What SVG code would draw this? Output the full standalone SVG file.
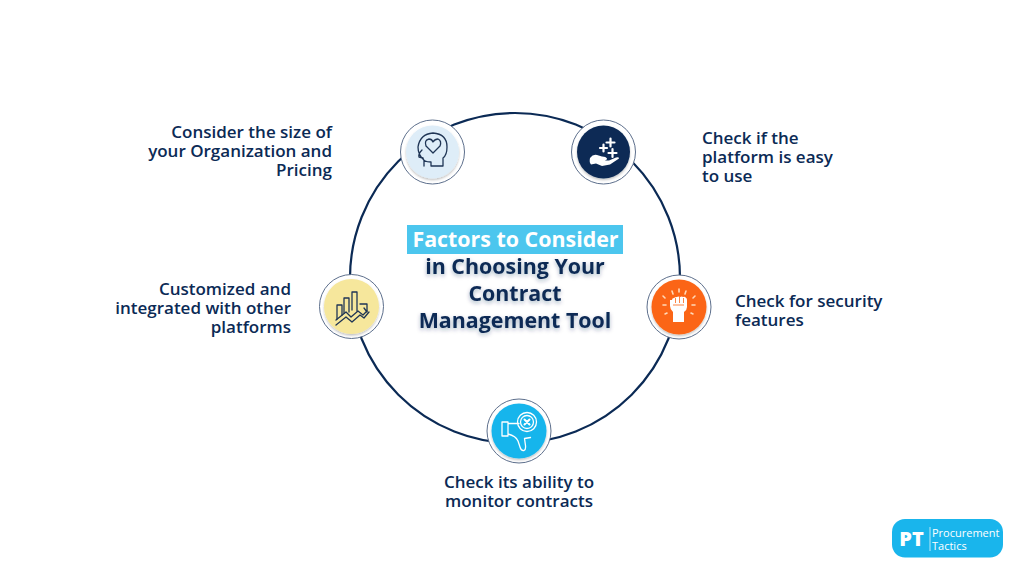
<svg xmlns="http://www.w3.org/2000/svg" width="1024" height="576" viewBox="0 0 1024 576">
<defs>
<filter id="ts" x="-10%" y="-30%" width="120%" height="170%"><feDropShadow dx="0" dy="2" stdDeviation="2" flood-color="#0b2a55" flood-opacity="0.35"/></filter>
<filter id="ds" x="-20%" y="-20%" width="140%" height="140%"><feDropShadow dx="0" dy="1.5" stdDeviation="1.2" flood-color="#000" flood-opacity="0.25"/></filter>
</defs>
<style>
text{font-family:"Open Sans","Liberation Sans",sans-serif;font-weight:600;fill:#0b2a55}
.l{font-size:17px}
.t{font-size:21.4px;font-weight:700;text-anchor:middle}
.e{text-anchor:end}
.m{text-anchor:middle}
.ring{fill:#fff;stroke:#5d6f8c;stroke-width:1}
.ic{fill:none;stroke:#1f3555;stroke-width:1.3;stroke-linejoin:round;stroke-linecap:round}
.w{fill:none;stroke:#fff;stroke-width:1.3;stroke-linejoin:round;stroke-linecap:round}
.wf{fill:#fff}
.pl{fill:none;stroke:#fff;stroke-width:2.2;stroke-linecap:round}
.sp{fill:none;stroke:#ffd9b8;stroke-width:1.6;stroke-linecap:round}
.lg{fill:#fff;font-size:11px;font-weight:400;font-family:"Open Sans","Liberation Sans",sans-serif}
</style>
<rect width="1024" height="576" fill="#fff"/>
<g id="connectors"><circle cx="515" cy="278" r="165" fill="none" stroke="#0b2a55" stroke-width="2.2"/></g>
<g id="title">
<rect x="407" y="225" width="216" height="29" fill="#4cc6ee"/>
<text class="t" x="515.500" y="247" style="fill:#fff">Factors to Consider</text>
<text class="t" x="515" y="274" filter="url(#ts)">in Choosing Your</text>
<text class="t" x="515" y="301" filter="url(#ts)">Contract</text>
<text class="t" x="515" y="328" filter="url(#ts)">Management Tool</text>
</g>
<g id="node-size">
<circle class="ring" cx="432.500" cy="152" r="32"/>
<circle cx="432.500" cy="152" r="26.500" fill="#deedf8" filter="url(#ds)"/>
<path class="ic" d="M424 166 L424 160 Q418 155 418 147 Q420 134 433 133 Q447 134 447 147 Q447 155 443 158 L443 166 L431 166 L431 162 Q423 162 423 158 L419 157 Q418 154 422 150"/>
<path class="ic" d="M433 153 L426 146 Q424 140 429 139 Q432 139 433 142 Q435 139 438 139 Q442 141 440 146 Z"/>
<text class="l e" x="332" y="138">Consider the size of</text>
<text class="l e" x="332" y="157">your Organization and</text>
<text class="l e" x="332" y="176">Pricing</text>
</g>
<g id="node-easy">
<circle class="ring" cx="603.500" cy="152" r="32"/>
<circle cx="603.500" cy="152" r="26.500" fill="#0b2a55" filter="url(#ds)"/>
<path class="pl" d="M610.500 138.500v8M606.500 142.500h8M603.500 144.500v7M600 148h7M612.500 149v8M608.500 153h8"/>
<path class="wf" d="M590 158q3-4 7-3l5 1.500q4 0 5 2 0 2-4 2l6 0 7-3q3-1 3 1l-9 6-8 1.500-6-2.500-5 1q-2-2-1-6.500z"/>
<text class="l" x="702" y="144">Check if the</text>
<text class="l" x="702" y="163">platform is easy</text>
<text class="l" x="702" y="182">to use</text>
</g>
<g id="node-security">
<circle class="ring" cx="679" cy="307" r="32"/>
<circle cx="679" cy="307" r="27.500" fill="#fb6514" filter="url(#ds)"/>
<path class="wf" d="M672 300q0-2 2-2 1-1 3-1 1-1 3 0 2-1 3 0 2-1 3 1 1 0 1 2l0 7q0 3-3 5l0 10-11 0 0-10q-3-3-3-6l0-6z"/>
<path d="M675.500 298v5M679.500 297v6M683.500 298v5M673 305h11" fill="none" stroke="#fb6514" stroke-width="0.800"/>
<path class="sp" d="M672 291l1 3M679 289v3M686 291l-1 3M663 296l2 2M695 296l-2 2M663 305h3M692 305h3M665 314l2-1M693 314l-2-1"/>
<text class="l" x="735" y="307">Check for security</text>
<text class="l" x="735" y="326">features</text>
</g>
<g id="node-monitor">
<circle class="ring" cx="519" cy="431" r="32"/>
<circle cx="519" cy="431" r="27.500" fill="#19b5ec" filter="url(#ds)"/>
<path class="w" d="M502 422h6v14h-6zM508 423.500l11 0M508 434q8 2 10 7l2 6q1 4 4 3.500 2-1 1.500-5l-1-7 6-1"/>
<circle class="w" cx="527" cy="422" r="9.500"/>
<circle class="w" cx="527" cy="422" r="6.500"/>
<path d="M524.500 419.500l5 5M529.500 419.500l-5 5" stroke="#fff" stroke-width="2" fill="none" stroke-linecap="round"/>
<text class="l m" x="519" y="488">Check its ability to</text>
<text class="l m" x="519" y="507">monitor contracts</text>
</g>
<g id="node-custom">
<circle class="ring" cx="351.500" cy="306.500" r="32"/>
<circle cx="351.500" cy="306.500" r="27.500" fill="#f6e79c" filter="url(#ds)"/>
<path class="ic" d="M337 319v-14h5v10M344 313v-15h5v14M352 310v-18h5v19M360 304h7v8l-3-4"/>
<path class="ic" d="M336 320l10-8 5 5 7-6 5 4 4-4M336 325l10-8 6 5 8-7 4 3 5-6"/>
<text class="l e" x="291" y="295">Customized and</text>
<text class="l e" x="291" y="314">integrated with other</text>
<text class="l e" x="291" y="333">platforms</text>
</g>
<g id="logo">
<rect x="892" y="519" width="111" height="38.500" rx="13" fill="#19b5ec"/>
<text x="911.500" y="546" class="m" style="fill:#fff;font-size:20px;font-weight:800">PT</text>
<path d="M930 527v24" stroke="#fff" stroke-width="0.700"/>
<text x="932" y="537" class="lg">Procurement</text>
<text x="932" y="550" class="lg">Tactics</text>
</g>
</svg>
